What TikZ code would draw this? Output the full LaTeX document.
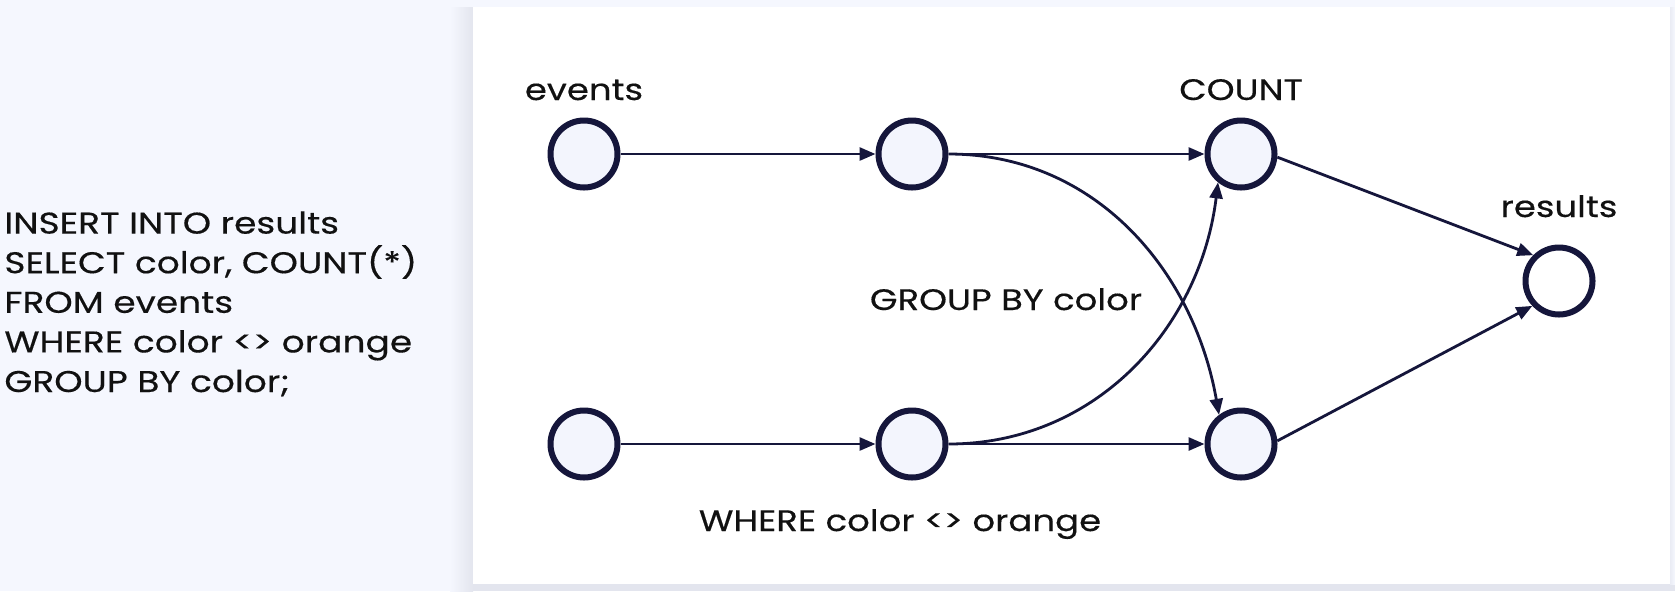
\documentclass[tikz,border=0pt]{standalone}
\usepackage{fontspec}
\setmainfont{Poppins}[FakeStretch=1.2,FakeBold=0.4]
\usetikzlibrary{arrows.meta}
\definecolor{bgc}{HTML}{F5F7FE}
\definecolor{navy}{HTML}{15163B}
\definecolor{nodefill}{HTML}{F3F5FD}
\definecolor{shadowc}{HTML}{E3E5EE}
\definecolor{txt}{HTML}{111111}
\tikzset{
  vert/.style={circle, draw=navy, line width=3pt, fill=nodefill, minimum size=33.5pt, inner sep=0pt},
  sinkvert/.style={vert, fill=white},
  lbl/.style={font=\fontsize{14.8pt}{19.8pt}\selectfont, text=txt, anchor=base, inner sep=0pt},
  edge/.style={draw=navy, line width=1.4pt, -{Triangle[length=8pt,width=6.5pt]}},
}
\begin{document}
\begin{tikzpicture}[x=0.5pt,y=-0.5pt]
\useasboundingbox (0,0) rectangle (1675,591);
\fill[bgc] (0,0) rectangle (1675,591);
% panel shadow
\shade[left color=bgc, right color=shadowc] (450,7) rectangle (473,591);
\fill[shadowc] (473,584) rectangle (1675,591);
\shade[left color=shadowc!60!bgc, right color=bgc] (1670,7) rectangle (1675,584);
\fill[white] (473,7) rectangle (1670,584);
% SQL
\node[lbl, anchor=base west, align=left, font=\fontsize{15pt}{19.8pt}\selectfont] (sql) at (4,392)
 {INSERT INTO results\\SELECT color, COUNT(*)\\FROM events\\WHERE color <> orange\\GROUP BY color;};
% vertices
\node[vert] (e1) at (584,154) {};
\node[vert] (e2) at (912,154) {};
\node[vert] (c3) at (1241,154) {};
\node[vert] (b1) at (584,444) {};
\node[vert] (b2) at (912,444) {};
\node[vert] (b3) at (1241,444) {};
\node[sinkvert] (res) at (1559,281) {};
% labels
\node[lbl] (lev) at (584,100) {events};
\node[lbl] (lcount) at (1241,100) {COUNT};
\node[lbl] (lres) at (1559,217) {results};
\node[lbl] (lgroup) at (1006,310) {GROUP BY color};
\node[lbl] (lwhere) at (900,531) {WHERE color <> orange};
% edges
\draw[edge] (e1) -- (e2);
\draw[edge] (e2) -- (c3);
\draw[edge] (b1) -- (b2);
\draw[edge] (b2) -- (b3);
\draw[edge] (e2.east) to[out=0,in=100] (b3.127);
\draw[edge] (b2.east) to[out=0,in=263] (c3.231);
\draw[edge] (c3.-5) -- (res.135);
\draw[edge] (b3.5) -- (res.223);
\end{tikzpicture}
\end{document}
